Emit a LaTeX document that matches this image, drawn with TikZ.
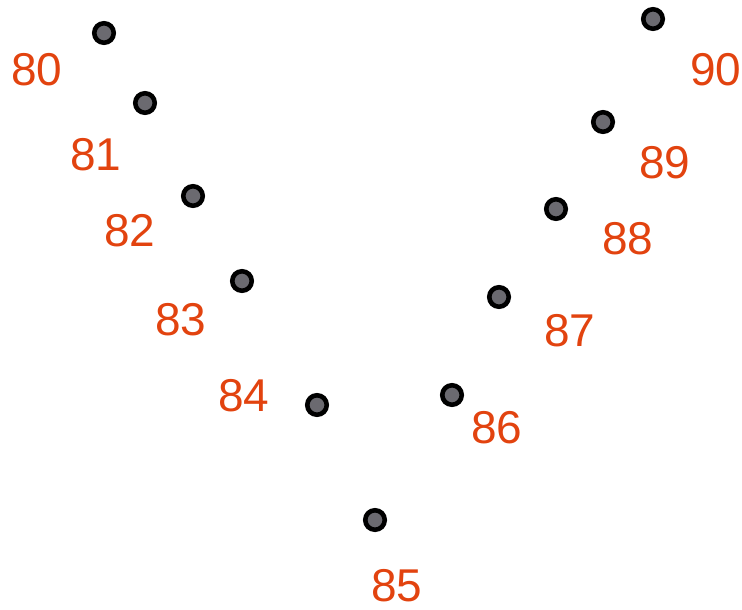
\documentclass[tikz,border=0pt]{standalone}
\usepackage{fontspec}
\setmainfont{Liberation Sans}
\definecolor{lab}{HTML}{E2430F}
\definecolor{dotfill}{HTML}{6B6A70}
\begin{document}
\begin{tikzpicture}[x=1pt,y=-1pt,
  pt/.style={circle,draw=black,line width=4.6pt,fill=dotfill,minimum size=19.5pt,inner sep=0pt},
  lbl/.style={text=lab,font=\fontsize{46}{46}\selectfont,inner sep=0pt}]
\useasboundingbox (0,0) rectangle (742,610);
\node[pt] (d80) at (104,33) {};
\node[pt] (d81) at (145,103) {};
\node[pt] (d82) at (193,196) {};
\node[pt] (d83) at (242,281) {};
\node[pt] (d84) at (317,405) {};
\node[pt] (d85) at (375,520) {};
\node[pt] (d86) at (452,395) {};
\node[pt] (d87) at (499,297) {};
\node[pt] (d88) at (556,209) {};
\node[pt] (d89) at (603,122) {};
\node[pt] (d90) at (653,19) {};
\node[lbl] (l80) at (37,70) {80};
\node[lbl] (l81) at (96,155) {81};
\node[lbl] (l82) at (130,231) {82};
\node[lbl] (l83) at (181,320) {83};
\node[lbl] (l84) at (244,396) {84};
\node[lbl] (l85) at (397,586) {85};
\node[lbl] (l86) at (497,428) {86};
\node[lbl] (l87) at (570,331) {87};
\node[lbl] (l88) at (628,239) {88};
\node[lbl] (l89) at (665,163) {89};
\node[lbl] (l90) at (716,70) {90};
\end{tikzpicture}
\end{document}
